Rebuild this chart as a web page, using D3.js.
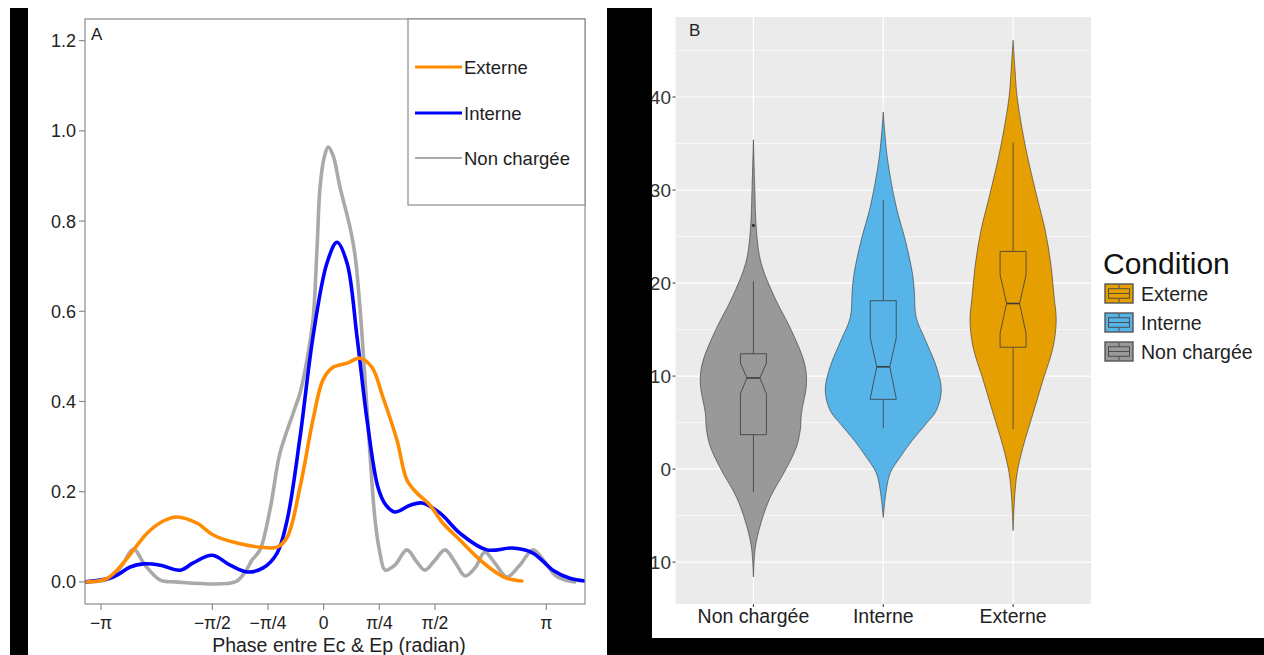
<!DOCTYPE html>
<html><head><meta charset="utf-8">
<script src="https://cdn.jsdelivr.net/npm/d3@7"></script>
<style>body{margin:0;background:#fff;} svg{display:block;font-family:"Liberation Sans",Arial,Helvetica,sans-serif;}</style>
</head><body><svg id="c" width="1264" height="655"></svg>
<script>
// ---------- Panel A data (x in multiples of pi, y = density) ----------
const phaseTicks = [-1, -0.5, -0.25, 0, 0.25, 0.5, 1];
const phaseTickLabels = ["−π", "−π/2", "−π/4", "0", "π/4", "π/2", "π"];
const densityTicks = [0, 0.2, 0.4, 0.6, 0.8, 1.0, 1.2];
const densityTickLabels = ["0.0", "0.2", "0.4", "0.6", "0.8", "1.0", "1.2"];
const seriesNames = ["Externe", "Interne", "Non chargée"];
const seriesColors = ["#FF8C00", "#0000FF", "#A9A9A9"];

const curveNonChargee = [[-1.071,0],[-0.959,0.008],[-0.905,0.037],[-0.855,0.073],[-0.802,0.037],[-0.734,0.004],[-0.667,0],[-0.398,0],[-0.353,0.022],[-0.321,0.049],[-0.286,0.071],[-0.241,0.160],[-0.196,0.286],[-0.137,0.374],[-0.106,0.419],[-0.075,0.492],[-0.048,0.580],[-0.030,0.736],[-0.016,0.876],[0.002,0.940],[0.020,0.964],[0.042,0.946],[0.073,0.876],[0.118,0.787],[0.141,0.724],[0.163,0.609],[0.186,0.447],[0.208,0.285],[0.231,0.137],[0.253,0.064],[0.276,0.026],[0.320,0.037],[0.374,0.071],[0.419,0.044],[0.455,0.026],[0.500,0.048],[0.545,0.071],[0.590,0.044],[0.635,0.013],[0.680,0.031],[0.724,0.066],[0.769,0.042],[0.823,0.011],[0.881,0.037],[0.940,0.071],[0.994,0.044],[1.039,0.015],[1.083,0.004],[1.128,0]];
const curveInterne = [[-1.071,0],[-0.945,0.011],[-0.869,0.033],[-0.810,0.040],[-0.734,0.037],[-0.644,0.026],[-0.586,0.042],[-0.500,0.059],[-0.420,0.037],[-0.344,0.022],[-0.272,0.031],[-0.209,0.064],[-0.164,0.137],[-0.106,0.321],[-0.048,0.543],[0.015,0.707],[0.060,0.753],[0.105,0.707],[0.150,0.543],[0.195,0.359],[0.244,0.210],[0.280,0.170],[0.320,0.155],[0.388,0.170],[0.442,0.175],[0.522,0.153],[0.612,0.108],[0.733,0.071],[0.850,0.075],[0.940,0.064],[1.030,0.026],[1.106,0.008],[1.174,0.002]];
const curveExterne = [[-1.062,0],[-0.972,0.008],[-0.900,0.042],[-0.793,0.108],[-0.720,0.135],[-0.658,0.144],[-0.568,0.130],[-0.496,0.104],[-0.389,0.086],[-0.285,0.077],[-0.209,0.077],[-0.164,0.099],[-0.106,0.210],[-0.048,0.359],[-0.003,0.448],[0.042,0.476],[0.105,0.485],[0.163,0.496],[0.217,0.476],[0.266,0.410],[0.329,0.315],[0.374,0.226],[0.419,0.197],[0.478,0.170],[0.536,0.130],[0.612,0.093],[0.689,0.055],[0.760,0.026],[0.823,0.008],[0.890,0.002]];

// ---------- Panel B data ----------
const categories = ["Non chargée", "Interne", "Externe"];
const categoryColors = ["#999999", "#56B4E9", "#E69F00"];
const legendOrder = ["Externe", "Interne", "Non chargée"];
const yTicksB = [-10, 0, 10, 20, 30, 40];
const yMinorB = [-5, 5, 15, 25, 35, 45];
// violin outlines: [value, half-width in category units]
const violinNonChargee = [[35.4,0],[30.5,0.010],[25.7,0.023],[22.2,0.058],[18.5,0.162],[14.9,0.293],[11.4,0.393],[9.2,0.409],[6.0,0.370],[4.3,0.362],[2.4,0.332],[-0.1,0.247],[-3.0,0.131],[-5.8,0.058],[-8.4,0.015],[-11.6,0]];
const violinInterne = [[38.4,0],[33.5,0.031],[28.2,0.100],[24.6,0.170],[21.1,0.224],[19.2,0.239],[16.3,0.254],[13.9,0.324],[11.0,0.409],[8.5,0.447],[6.3,0.409],[4.9,0.332],[3.1,0.224],[1.3,0.131],[-0.4,0.054],[-2.3,0.023],[-5.2,0]];
const violinExterne = [[46.1,0],[42.9,0.015],[40.0,0.031],[34.6,0.096],[29.2,0.185],[25.7,0.247],[22.2,0.289],[18.5,0.316],[16.0,0.332],[13.1,0.308],[9.6,0.231],[6.0,0.154],[2.4,0.077],[-0.4,0.031],[-3.0,0.012],[-6.6,0]];
// box stats: [whiskerLow, Q1, notchLow, median, notchHigh, Q3, whiskerHigh]
const boxNonChargee = [-2.5, 3.7, 8.1, 9.8, 11.4, 12.4, 20.2];
const boxInterne = [4.4, 7.5, 7.6, 11.0, 14.1, 18.1, 28.9];
const boxExterne = [4.3, 13.1, 14.6, 17.8, 20.9, 23.4, 35.1];
const outliersNonChargee = [26.2];

const svg = d3.select("#c");

// ================= Panel A =================
const xA = d3.scaleLinear().domain([-1.072, 1.174]).range([85, 585]);
const yA = d3.scaleLinear().domain([-0.049, 1.248]).range([604, 19]);
const gA = svg.append("g");
gA.append("clipPath").attr("id","clipA").append("rect").attr("x",85).attr("y",19).attr("width",500).attr("height",585);

const line = d3.line().x(d => xA(d[0])).y(d => yA(d[1])).curve(d3.curveCatmullRom.alpha(0.5));
const curves = [curveNonChargee, curveInterne, curveExterne];
const curveCols = [seriesColors[2], seriesColors[1], seriesColors[0]];
curves.forEach((c, i) => {
  gA.append("path").attr("d", line(c)).attr("fill","none").attr("stroke", curveCols[i])
    .attr("stroke-width", 3.6).attr("stroke-linejoin","round").attr("stroke-linecap","round")
    .attr("clip-path","url(#clipA)");
});

// frame
gA.append("rect").attr("x",85).attr("y",19).attr("width",500).attr("height",585)
  .attr("fill","none").attr("stroke","#8c8c8c").attr("stroke-width",1.2);

// y axis
densityTicks.forEach((t, i) => {
  gA.append("line").attr("x1",79).attr("x2",85).attr("y1",yA(t)).attr("y2",yA(t)).attr("stroke","#8c8c8c").attr("stroke-width",1.2);
  gA.append("text").attr("x",76).attr("y",yA(t)).attr("dy","0.36em").attr("text-anchor","end")
    .attr("font-size",18).attr("fill","#222").text(densityTickLabels[i]);
});
// x axis
phaseTicks.forEach((t, i) => {
  gA.append("line").attr("x1",xA(t)).attr("x2",xA(t)).attr("y1",604).attr("y2",610).attr("stroke","#8c8c8c").attr("stroke-width",1.2);
  gA.append("text").attr("x",xA(t)).attr("y",629).attr("text-anchor","middle")
    .attr("font-size",17.5).attr("fill","#222").text(phaseTickLabels[i]);
});
gA.append("text").attr("x",339).attr("y",652).attr("text-anchor","middle").attr("font-size",19.5).attr("fill","#222")
  .text("Phase entre Ec & Ep (radian)");
gA.append("text").attr("x",91).attr("y",40).attr("font-size",17).attr("fill","#222").text("A");

// legend A
gA.append("rect").attr("x",408).attr("y",19).attr("width",177).attr("height",186)
  .attr("fill","#fff").attr("stroke","#8c8c8c").attr("stroke-width",1.2);
const legY = [67, 113, 158];
const legW = [3, 3, 2.2];
seriesNames.forEach((n, i) => {
  gA.append("line").attr("x1",415).attr("x2",462).attr("y1",legY[i]).attr("y2",legY[i])
    .attr("stroke",seriesColors[i]).attr("stroke-width",legW[i]);
  gA.append("text").attr("x",464).attr("y",legY[i]).attr("dy","0.36em").attr("font-size",18.5).attr("fill","#222").text(n);
});

// ================= Panel B =================
const xB = d3.scaleLinear().domain([0.4, 3.6]).range([675.5, 1091]);
const yB = d3.scaleLinear().domain([-14.5, 48.6]).range([604, 17]);
const gB = svg.append("g");
gB.append("rect").attr("x",675.5).attr("y",17).attr("width",1091-675.5).attr("height",587).attr("fill","#EBEBEB");
yMinorB.forEach(t => gB.append("line").attr("x1",675.5).attr("x2",1091).attr("y1",yB(t)).attr("y2",yB(t)).attr("stroke","#fff").attr("stroke-width",0.6));
yTicksB.forEach(t => gB.append("line").attr("x1",675.5).attr("x2",1091).attr("y1",yB(t)).attr("y2",yB(t)).attr("stroke","#fff").attr("stroke-width",1.2));
categories.forEach((c, i) => gB.append("line").attr("x1",xB(i+1)).attr("x2",xB(i+1)).attr("y1",17).attr("y2",604).attr("stroke","#fff").attr("stroke-width",1.2));

const violins = [violinNonChargee, violinInterne, violinExterne];
const boxes = [boxNonChargee, boxInterne, boxExterne];
violins.forEach((v, i) => {
  const cx = i + 1;
  const area = d3.area().curve(d3.curveCatmullRom.alpha(0.5))
    .y(d => yB(d[0])).x0(d => xB(cx - d[1])).x1(d => xB(cx + d[1]));
  gB.append("path").attr("d", area(v)).attr("fill", categoryColors[i]).attr("stroke","#333").attr("stroke-width",0.6);
});
boxes.forEach((b, i) => {
  const cx = i + 1, hw = 0.1, nw = 0.05;
  const [wl, q1, nl, med, nh, q3, wh] = b;
  const col = "#3a3a3a";
  gB.append("line").attr("x1",xB(cx)).attr("x2",xB(cx)).attr("y1",yB(q3)).attr("y2",yB(wh)).attr("stroke",col).attr("stroke-width",0.8);
  gB.append("line").attr("x1",xB(cx)).attr("x2",xB(cx)).attr("y1",yB(q1)).attr("y2",yB(wl)).attr("stroke",col).attr("stroke-width",0.8);
  const pts = [[cx-hw,q3],[cx-hw,nh],[cx-nw,med],[cx-hw,nl],[cx-hw,q1],[cx+hw,q1],[cx+hw,nl],[cx+nw,med],[cx+hw,nh],[cx+hw,q3]];
  gB.append("path").attr("d", d3.line().x(d=>xB(d[0])).y(d=>yB(d[1]))(pts) + "Z")
    .attr("fill","none").attr("stroke",col).attr("stroke-width",0.8);
  gB.append("line").attr("x1",xB(cx-nw)).attr("x2",xB(cx+nw)).attr("y1",yB(med)).attr("y2",yB(med)).attr("stroke",col).attr("stroke-width",1.6);
});
outliersNonChargee.forEach(o => gB.append("circle").attr("cx",xB(1)).attr("cy",yB(o)).attr("r",1.6).attr("fill","#333"));

// axes B
yTicksB.forEach(t => {
  gB.append("line").attr("x1",672.5).attr("x2",675.5).attr("y1",yB(t)).attr("y2",yB(t)).attr("stroke","#333").attr("stroke-width",1);
  gB.append("text").attr("x",671).attr("y",yB(t)).attr("dy","0.36em").attr("text-anchor","end").attr("font-size",19).attr("fill","#333").text(t);
});
categories.forEach((c, i) => {
  gB.append("line").attr("x1",xB(i+1)).attr("x2",xB(i+1)).attr("y1",604).attr("y2",607).attr("stroke","#333").attr("stroke-width",1);
  gB.append("text").attr("x",xB(i+1)).attr("y",623).attr("text-anchor","middle").attr("font-size",19.5).attr("fill","#222").text(c);
});
gB.append("text").attr("x",689).attr("y",36).attr("font-size",17).attr("fill","#222").text("B");

// legend B
gB.append("text").attr("x",1103).attr("y",274).attr("font-size",30).attr("fill","#111").text("Condition");
const keyY = [284, 313, 342];
legendOrder.forEach((n, i) => {
  const col = categoryColors[categories.indexOf(n)];
  const kx = 1105, ky = keyY[i], kw = 28, kh = 19;
  const g = gB.append("g");
  g.append("rect").attr("x",kx).attr("y",ky).attr("width",kw).attr("height",kh).attr("fill",col).attr("stroke","#555").attr("stroke-width",1.4);
  g.append("rect").attr("x",kx+kw*0.125).attr("y",ky+kh*0.25).attr("width",kw*0.75).attr("height",kh*0.5).attr("fill","none").attr("stroke","#444").attr("stroke-width",0.9);
  g.append("line").attr("x1",kx+kw*0.125).attr("x2",kx+kw*0.875).attr("y1",ky+kh*0.5).attr("y2",ky+kh*0.5).attr("stroke","#444").attr("stroke-width",0.9);
  g.append("line").attr("x1",kx+kw/2).attr("x2",kx+kw/2).attr("y1",ky+kh*0.05).attr("y2",ky+kh*0.25).attr("stroke","#444").attr("stroke-width",0.9);
  g.append("line").attr("x1",kx+kw/2).attr("x2",kx+kw/2).attr("y1",ky+kh*0.75).attr("y2",ky+kh*0.95).attr("stroke","#444").attr("stroke-width",0.9);
  gB.append("text").attr("x",1141).attr("y",ky+kh/2).attr("dy","0.36em").attr("font-size",19.5).attr("fill","#222").text(n);
});

// black framing bars
svg.append("rect").attr("x",10).attr("y",8).attr("width",18).attr("height",647).attr("fill","#000");
svg.append("rect").attr("x",607).attr("y",8).attr("width",45).attr("height",647).attr("fill","#000");
svg.append("rect").attr("x",607).attr("y",638).attr("width",657).attr("height",17).attr("fill","#000");
</script></body></html>
